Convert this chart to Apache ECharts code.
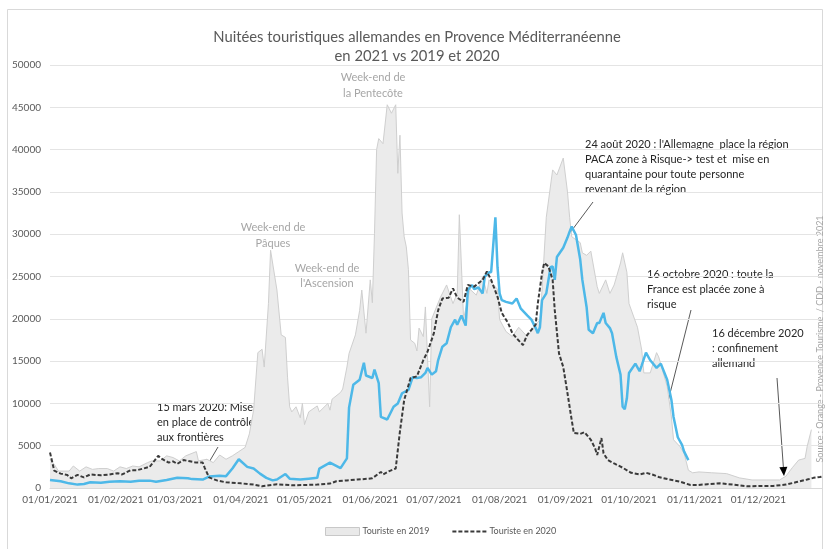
<!DOCTYPE html>
<html>
<head>
<meta charset="utf-8">
<script src="https://cdn.jsdelivr.net/npm/echarts@6/dist/echarts.min.js"></script>
<style>
   html, body { margin: 0; padding: 0; background: #fff; }
   #chart { width: 828px; height: 549px; }
</style>
</head>
<body>
<div id="chart"></div>
<script>
// valeurs : [jour/mois, nuitées]
const touriste2019 = [
   ["01/01", 3400], ["03/01", 2800], ["05/01", 2000], ["10/01", 2000], ["12/01", 2600],
   ["15/01", 2000], ["18/01", 2500], ["21/01", 2200], ["24/01", 2300], ["28/01", 2300],
   ["31/01", 2000], ["03/02", 2500], ["06/02", 2300], ["09/02", 2600], ["12/02", 2500],
   ["16/02", 3000], ["18/02", 3200], ["22/02", 3200], ["25/02", 3800], ["28/02", 3600],
   ["03/03", 3200], ["06/03", 3800], ["11/03", 4300], ["12/03", 3200], ["16/03", 3400],
   ["19/03", 3000], ["22/03", 3900], ["25/03", 3400], ["28/03", 3800], ["31/03", 4300],
   ["03/04", 4800], ["05/04", 6400], ["07/04", 9200], ["09/04", 16000], ["11/04", 16400],
   ["12/04", 14300], ["14/04", 21800], ["15/04", 28100], ["18/04", 23400], ["20/04", 18100],
   ["22/04", 17800], ["23/04", 13100], ["24/04", 9600], ["25/04", 9000], ["27/04", 9600],
   ["29/04", 8300], ["30/04", 10000], ["01/05", 7500], ["03/05", 9000], ["07/05", 9700],
   ["08/05", 9000], ["12/05", 10000], ["13/05", 9200], ["14/05", 10500], ["18/05", 11300],
   ["19/05", 11700], ["21/05", 14300], ["22/05", 15900], ["25/05", 18100], ["27/05", 21000],
   ["28/05", 23400], ["30/05", 18300], ["01/06", 24600], ["02/06", 21900], ["03/06", 30100],
   ["04/06", 40000], ["05/06", 41300], ["07/06", 40700], ["09/06", 45300], ["11/06", 44300],
   ["13/06", 45300], ["14/06", 37200], ["15/06", 41700], ["16/06", 32500], ["17/06", 29700],
   ["18/06", 28500], ["19/06", 25800], ["20/06", 17500], ["22/06", 17100], ["23/06", 16200],
   ["24/06", 18900], ["26/06", 17900], ["27/06", 21400], ["29/06", 9600], ["30/06", 20000],
   ["04/07", 22500], ["07/07", 24000], ["10/07", 21800], ["12/07", 23000], ["13/07", 32300],
   ["15/07", 20000], ["18/07", 23500], ["21/07", 22800], ["24/07", 25000], ["26/07", 23000],
   ["27/07", 24600], ["31/07", 23500], ["01/08", 19900], ["04/08", 18500], ["07/08", 17900],
   ["10/08", 19000], ["14/08", 17900], ["16/08", 18600], ["20/08", 19900], ["21/08", 23400],
   ["23/08", 32000], ["26/08", 37600], ["28/08", 37000], ["31/08", 39000], ["02/09", 35000],
   ["03/09", 32000], ["04/09", 29700], ["08/09", 29000], ["09/09", 27800], ["11/09", 27500],
   ["13/09", 28000], ["16/09", 23800], ["17/09", 23000], ["20/09", 24600], ["22/09", 23000],
   ["24/09", 24000], ["27/09", 26600], ["28/09", 27800], ["30/09", 25500], ["01/10", 21800],
   ["05/10", 19000], ["07/10", 16300], ["08/10", 13600], ["11/10", 13600], ["14/10", 16000],
   ["15/10", 15500], ["19/10", 12000], ["21/10", 8400], ["22/10", 5700], ["25/10", 4900],
   ["27/10", 4100], ["29/10", 2100], ["31/10", 1800], ["03/11", 1900], ["09/11", 1800],
   ["16/11", 1700], ["22/11", 1200], ["28/11", 950], ["05/12", 950], ["11/12", 950],
   ["14/12", 1400], ["17/12", 2400], ["20/12", 3300], ["23/12", 3500], ["24/12", 4900],
   ["26/12", 6900]
];

const touriste2020 = [
   ["01/01", 4200], ["03/01", 2050], ["06/01", 1700], ["09/01", 1550], ["11/01", 1150],
   ["14/01", 1550], ["17/01", 1250], ["20/01", 1600], ["25/01", 1500], ["29/01", 1600],
   ["02/02", 1750], ["04/02", 1600], ["08/02", 2100], ["11/02", 2100], ["14/02", 2300],
   ["17/02", 2500], ["21/02", 3800], ["23/02", 3400], ["26/02", 3000], ["28/02", 3150],
   ["02/03", 2850], ["05/03", 3300], ["08/03", 3150], ["11/03", 3000], ["14/03", 3000],
   ["15/03", 2350], ["17/03", 1250], ["21/03", 870], ["25/03", 670], ["01/04", 550],
   ["07/04", 400], ["11/04", 200], ["18/04", 440], ["26/04", 320], ["07/05", 400],
   ["13/05", 520], ["16/05", 800], ["21/05", 900], ["26/05", 1000], ["31/05", 1100],
   ["02/06", 1150], ["06/06", 1900], ["07/06", 1600], ["10/06", 2000], ["13/06", 2300],
   ["15/06", 6700], ["17/06", 10400], ["20/06", 13000], ["23/06", 13200], ["26/06", 15100],
   ["28/06", 16100], ["01/07", 18300], ["03/07", 21000], ["05/07", 22400], ["08/07", 22500],
   ["10/07", 23600], ["12/07", 22500], ["15/07", 22000], ["17/07", 24000], ["20/07", 23800],
   ["24/07", 24600], ["26/07", 25600], ["28/07", 24600], ["31/07", 22600], ["02/08", 20700],
   ["05/08", 19500], ["07/08", 18300], ["09/08", 17700], ["12/08", 16900], ["14/08", 18100],
   ["16/08", 18700], ["18/08", 19300], ["19/08", 21800], ["21/08", 25400], ["22/08", 26600],
   ["24/08", 26200], ["26/08", 24600], ["27/08", 21000], ["29/08", 15900], ["31/08", 14300],
   ["02/09", 11200], ["04/09", 8000], ["05/09", 6500], ["08/09", 6400], ["10/09", 6600],
   ["13/09", 5700], ["15/09", 4700], ["16/09", 3900], ["18/09", 5900], ["19/09", 4100],
   ["21/09", 3300], ["24/09", 2900], ["28/09", 2400], ["02/10", 1800], ["06/10", 1600],
   ["09/10", 1800], ["12/10", 1600], ["15/10", 1300], ["20/10", 1000], ["25/10", 750],
   ["30/10", 350], ["02/11", 350], ["07/11", 450], ["13/11", 550], ["19/11", 400],
   ["26/11", 200], ["02/12", 250], ["08/12", 250], ["14/12", 400], ["19/12", 700],
   ["24/12", 1000], ["27/12", 1200], ["30/12", 1300], ["31/12", 1350]
];

const touriste2021 = [
   ["01/01", 950], ["06/01", 800], ["10/01", 550], ["14/01", 400], ["17/01", 470],
   ["20/01", 670], ["25/01", 630], ["29/01", 750], ["03/02", 800], ["08/02", 750],
   ["12/02", 870], ["17/02", 870], ["20/02", 750], ["25/02", 950], ["02/03", 1200],
   ["07/03", 1150], ["09/03", 1050], ["14/03", 1000], ["17/03", 1350], ["22/03", 1450],
   ["25/03", 1400], ["28/03", 2300], ["31/03", 3400], ["04/04", 2500], ["07/04", 2300],
   ["10/04", 1700], ["13/04", 1200], ["16/04", 900], ["18/04", 1000], ["22/04", 1650],
   ["24/04", 1100], ["29/04", 1000], ["03/05", 1100], ["07/05", 1200], ["08/05", 2300],
   ["13/05", 3000], ["18/05", 2350], ["21/05", 3500], ["22/05", 9500], ["24/05", 12200],
   ["27/05", 12800], ["29/05", 14800], ["30/05", 13300], ["02/06", 13000], ["03/06", 14000],
   ["05/06", 12400], ["06/06", 8400], ["09/06", 8100], ["12/06", 9600], ["14/06", 10000],
   ["16/06", 11200], ["19/06", 11600], ["21/06", 13100], ["23/06", 13000], ["25/06", 13100],
   ["27/06", 13600], ["28/06", 14200], ["30/06", 13400], ["02/07", 13800], ["03/07", 15100],
   ["05/07", 16700], ["07/07", 17100], ["09/07", 19000], ["11/07", 19900], ["12/07", 19300],
   ["14/07", 20400], ["16/07", 19200], ["17/07", 23400], ["19/07", 24000], ["20/07", 23500],
   ["22/07", 23700], ["24/07", 23000], ["25/07", 25000], ["27/07", 25500], ["28/07", 25500],
   ["30/07", 32000], ["31/07", 26100], ["01/08", 23000], ["02/08", 22200], ["04/08", 22000],
   ["07/08", 21800], ["09/08", 22400], ["11/08", 21200], ["14/08", 20400], ["16/08", 19900],
   ["18/08", 18900], ["19/08", 18300], ["20/08", 19000], ["21/08", 22200], ["23/08", 23000],
   ["25/08", 26100], ["26/08", 26200], ["27/08", 24600], ["28/08", 27300], ["31/08", 28400],
   ["02/09", 29600], ["03/09", 30300], ["04/09", 30900], ["06/09", 29900], ["08/09", 27000],
   ["09/09", 24600], ["11/09", 21400], ["12/09", 18700], ["14/09", 18300], ["16/09", 19500],
   ["17/09", 19500], ["19/09", 20700], ["20/09", 19500], ["22/09", 18900], ["23/09", 18300],
   ["25/09", 15500], ["27/09", 13400], ["28/09", 9600], ["29/09", 9300], ["30/09", 10600],
   ["01/10", 13600], ["04/10", 14700], ["06/10", 13800], ["07/10", 14500], ["09/10", 16000],
   ["11/10", 15100], ["12/10", 14800], ["14/10", 14200], ["16/10", 14700], ["19/10", 12800],
   ["21/10", 10400], ["22/10", 8400], ["24/10", 6000], ["26/10", 5100], ["27/10", 4300],
   ["29/10", 3300]
];

const days = [];
for (let d = new Date(Date.UTC(2021, 0, 1)); d.getUTCFullYear() === 2021; d.setUTCDate(d.getUTCDate() + 1)) {
   const dd = String(d.getUTCDate()).padStart(2, "0");
   const mm = String(d.getUTCMonth() + 1).padStart(2, "0");
   days.push(`${dd}/${mm}/2021`);
}

function toSeries(list) {
   return list.map(([day, v]) => [`${day}/2021`, v]);
}

const FONT = "Lato";
const DARK = "#262626";
const GREY_TEXT = "#a6a6a6";

// flèche : ligne + pointe noire
function arrow(x1, y1, x2, y2) {
   const a = Math.atan2(y2 - y1, x2 - x1);
   const len = 9, half = 4;
   const bx = x2 - len * Math.cos(a), by = y2 - len * Math.sin(a);
   return {
      type: "group",
      children: [
         {
            type: "line",
            shape: { x1: x1, y1: y1, x2: bx, y2: by },
            style: { stroke: "#595959", lineWidth: 1 },
         },
         {
            type: "polygon",
            shape: {
               points: [
                  [x2, y2],
                  [bx + half * Math.sin(a), by - half * Math.cos(a)],
                  [bx - half * Math.sin(a), by + half * Math.cos(a)],
               ],
            },
            style: { fill: "#000" },
         },
      ],
   };
}

function note(x, y, text, opts) {
   return {
      type: "text",
      x: x,
      y: y,
      style: Object.assign({
         text: text,
         fill: DARK,
         font: `11px ${FONT}`,
         lineHeight: 15,
         textAlign: "left",
         textVerticalAlign: "top",
      }, opts || {}),
   };
}

const chart = echarts.init(document.getElementById("chart"), null, { renderer: "canvas" });

chart.setOption({
   animation: false,
   backgroundColor: "#fff",
   title: {
      text: "Nuitées touristiques allemandes en Provence Méditerranéenne\nen 2021 vs 2019 et 2020",
      left: 412,
      textAlign: "center",
      top: 23,
      textStyle: {
         fontFamily: FONT,
         fontSize: 14.8,
         fontWeight: "normal",
         color: "#595959",
         lineHeight: 19,
      },
   },
   legend: {
      left: 320,
      top: 522,
      itemWidth: 34,
      itemHeight: 8,
      itemGap: 22,
      textStyle: { fontFamily: FONT, fontSize: 9, color: "#595959", padding: [0, 0, 0, -2] },
      data: [
         {
            name: "Touriste en 2019",
            icon: "rect",
            itemStyle: { color: "#e9e9e9", borderColor: "#c8c8c8", borderWidth: 1 },
         },
         {
            name: "Touriste en 2020",
            itemStyle: { opacity: 0 },
            lineStyle: { color: "#3a3a3a", width: 2, type: [4, 2] },
         },
      ],
   },
   grid: {
      left: 50,
      right: 6,
      top: 65,
      bottom: 61,
      containLabel: false,
      outerBoundsMode: "none",
   },
   xAxis: {
      type: "category",
      data: days,
      boundaryGap: false,
      axisLine: { lineStyle: { color: "#d9d9d9" } },
      axisTick: { show: false },
      axisLabel: {
         interval: (i, v) => v.startsWith("01/"),
         fontFamily: FONT,
         fontSize: 10,
         color: "#595959",
         margin: 7,
      },
      splitLine: { show: false },
   },
   yAxis: {
      type: "value",
      min: 0,
      max: 50000,
      interval: 5000,
      axisLine: { show: false },
      axisTick: { show: false },
      axisLabel: {
         fontFamily: FONT,
         fontSize: 10,
         color: "#595959",
         margin: 9,
         formatter: (v) => String(v),
      },
      splitLine: { lineStyle: { color: "#e4e4e4" } },
   },
   series: [
      {
         name: "Touriste en 2019",
         type: "line",
         data: toSeries(touriste2019),
         symbol: "none",
         lineStyle: { color: "#cfcfcf", width: 1 },
         itemStyle: { color: "#e9e9e9" },
         areaStyle: { color: "#ebebeb", opacity: 1 },
         z: 1,
      },
      {
         name: "Touriste en 2020",
         type: "line",
         data: toSeries(touriste2020),
         symbol: "none",
         lineStyle: { color: "#3a3a3a", width: 2, type: [4, 2] },
         itemStyle: { color: "#3a3a3a" },
         z: 3,
      },
      {
         name: "Touriste en 2021",
         type: "line",
         data: toSeries(touriste2021),
         symbol: "none",
         lineStyle: { color: "#4db8e8", width: 2.5 },
         itemStyle: { color: "#4db8e8" },
         z: 2,
      },
   ],
   graphic: [
      {
         type: "rect",
         shape: { x: 7.5, y: 9.5, width: 815, height: 560 },
         style: { fill: "none", stroke: "#d9d9d9", lineWidth: 1 },
         z: -1,
      },
      note(373, 69, "Week-end de\nla Pentecôte", { fill: GREY_TEXT, textAlign: "center", lineHeight: 16 }),
      note(273, 219, "Week-end de\nPâques", { fill: GREY_TEXT, textAlign: "center", lineHeight: 16 }),
      note(327, 261, "Week-end de\nl'Ascension", { fill: GREY_TEXT, textAlign: "center", lineHeight: 15 }),
      note(157, 400, "15 mars 2020: Mise\nen place de contrôle\naux frontières"),
      note(497, 427, "15 juin 2020: ouverture des\nfrontières européennes", { textAlign: "center" }),
      note(585, 137, "24 août 2020 : l'Allemagne  place la région\nPACA zone à Risque-> test et  mise en\nquarantaine pour toute personne\nrevenant de la région"),
      note(647, 267, "16 octobre 2020 : toute la\nFrance est placée zone à\nrisque"),
      note(712, 326, "16 décembre 2020\n: confinement\nallemand"),
      arrow(218, 447, 205, 469),
      arrow(426, 437, 403, 437),
      arrow(593, 202, 546, 265),
      arrow(691, 310, 652, 465),
      arrow(777, 378, 784, 476),
      {
         type: "text",
         x: 820,
         y: 339,
         rotation: Math.PI / 2,
         style: {
            text: "Source : Orange - Provence Tourisme  / CDD - novembre 2021",
            fill: GREY_TEXT,
            font: `9px ${FONT}`,
            textAlign: "center",
            textVerticalAlign: "middle",
         },
      },
   ],
});
</script>
</body>
</html>
